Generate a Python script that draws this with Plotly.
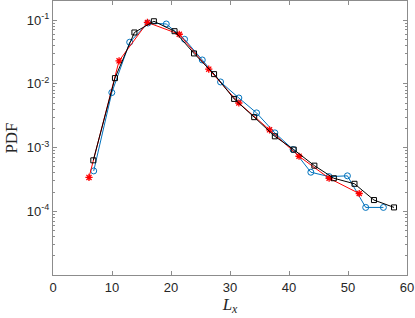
import plotly.graph_objects as go

# Blue series (circles)
blue_x = [6.9, 9.97, 13.0, 16.1, 19.2, 22.3, 25.3, 28.4, 31.5, 34.5, 37.6, 40.7, 43.7, 46.8, 49.9, 53.0, 56.0]
blue_y = [4.3e-4, 7.3e-3, 0.045, 0.090, 0.087, 0.050, 0.0237, 0.0107, 0.0060, 0.0035, 0.0017, 9.3e-4, 4.1e-4, 3.5e-4, 3.6e-4, 1.15e-4, 1.15e-4]

# Red series (stars)
red_x = [6.1, 11.2, 16.0, 21.4, 26.4, 31.5, 36.7, 41.7, 46.8, 51.9]
red_y = [3.4e-4, 0.023, 0.092, 0.060, 0.017, 0.0050, 0.0019, 7.3e-4, 3.3e-4, 1.9e-4]

# Black series (squares)
black_x = [6.83, 10.5, 13.8, 17.1, 20.6, 23.9, 27.3, 30.7, 34.1, 37.6, 40.8, 44.3, 47.6, 51.1, 54.4, 57.8]
black_y = [6.3e-4, 0.0123, 0.064, 0.096, 0.067, 0.030, 0.0142, 0.0058, 0.0030, 0.0015, 9.3e-4, 5.2e-4, 3.3e-4, 2.7e-4, 1.5e-4, 1.15e-4]

x_ticks = [0, 10, 20, 30, 40, 50, 60]
y_ticks = [1e-4, 1e-3, 1e-2, 1e-1]
y_ticktext = ["10<sup>-4</sup>", "10<sup>-3</sup>", "10<sup>-2</sup>", "10<sup>-1</sup>"]

fig = go.Figure()
fig.add_trace(go.Scatter(
    x=blue_x, y=blue_y, mode="lines+markers",
    line=dict(color="#0072BD", width=1),
    marker=dict(symbol="circle-open", size=6, color="#0072BD", line=dict(width=1)),
    showlegend=False))
fig.add_trace(go.Scatter(
    x=red_x, y=red_y, mode="lines+markers",
    line=dict(color="#FF0000", width=1),
    marker=dict(symbol="asterisk-open", size=6, color="#FF0000", line=dict(width=1.3, color="#FF0000")),
    showlegend=False))
fig.add_trace(go.Scatter(
    x=black_x, y=black_y, mode="lines+markers",
    line=dict(color="#000000", width=1),
    marker=dict(symbol="square-open", size=5, color="#000000", line=dict(width=1)),
    showlegend=False))

axis_color = "#8c8c8c"
fig.update_layout(
    width=415, height=318,
    margin=dict(l=53, r=8, t=1, b=43, autoexpand=False),
    paper_bgcolor="white", plot_bgcolor="white",
    font=dict(family="Liberation Sans, Arial, sans-serif", size=13, color="#262626"),
    xaxis=dict(
        range=[0, 60], tickvals=x_ticks, ticks="inside", ticklen=4, tickcolor=axis_color,
        showline=True, linecolor=axis_color, linewidth=1, mirror="ticks",
        showgrid=False, zeroline=False, automargin=False,
        title=dict(text="<i>L</i><sub><i>x</i></sub>", standoff=2,
                   font=dict(family="Liberation Serif, DejaVu Serif, serif", size=17, color="#262626")),
    ),
    yaxis=dict(
        type="log", range=[-5, -0.7], tickvals=y_ticks, ticktext=y_ticktext,
        ticks="inside", ticklen=4, tickcolor=axis_color,
        minor=dict(ticks="inside", ticklen=2, tickcolor=axis_color, dtick="D1", showgrid=False),
        showline=True, linecolor=axis_color, linewidth=1, mirror="ticks",
        showgrid=False, zeroline=False, automargin=False,
        title=dict(text="PDF", standoff=4,
                   font=dict(family="Liberation Serif, DejaVu Serif, serif", size=17, color="#262626")),
    ),
)

fig.write_html("out.html", config={"displayModeBar": False},
               post_script="document.body.style.margin='0';document.body.style.overflow='hidden';")
